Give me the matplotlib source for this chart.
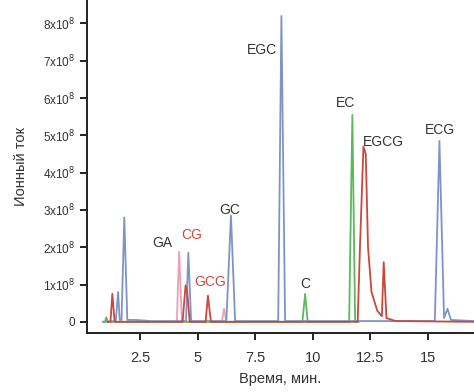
import matplotlib
matplotlib.use("Agg")
import matplotlib.pyplot as plt

plt.rcParams['font.family'] = ['Liberation Sans', 'DejaVu Sans']

# intensities in units of 1e8, time in minutes
blue_t = [0.9, 1.45, 1.55, 1.62, 1.7, 1.82, 1.95, 2.3, 3.0, 4.5, 4.6, 4.72, 6.25, 6.45, 6.63,
          8.5, 8.64, 8.8, 15.3, 15.5, 15.7, 15.85, 16.0, 17.0]
blue_v = [0.0, 0.02, 0.8, 0.05, 0.05, 2.8, 0.05, 0.05, 0.02, 0.02, 1.85, 0.02, 0.02, 2.85, 0.02,
          0.02, 8.2, 0.02, 0.02, 4.85, 0.1, 0.35, 0.05, 0.02]

red_t = [1.1, 1.22, 1.3, 1.4, 4.35, 4.48, 4.55, 4.66, 5.35, 5.45, 5.58, 11.95, 12.05, 12.2,
         12.3, 12.4, 12.55, 12.8, 13.0, 13.08, 13.2, 13.6, 17.0]
red_v = [0.0, 0.0, 0.75, 0.0, 0.0, 0.98, 0.8, 0.0, 0.0, 0.7, 0.0, 0.0, 2.0, 4.7,
         4.5, 2.0, 0.8, 0.3, 0.15, 1.6, 0.1, 0.02, 0.0]

pink_t = [3.9, 4.1, 4.2, 4.32, 6.05, 6.15, 6.25, 7.0]
pink_v = [0.0, 0.0, 1.88, 0.0, 0.0, 0.35, 0.0, 0.0]

green_t = [0.9, 0.98, 1.04, 1.1, 9.55, 9.67, 9.78, 11.58, 11.72, 11.84, 12.0]
green_v = [0.0, 0.0, 0.12, 0.0, 0.0, 0.75, 0.0, 0.0, 5.55, 0.0, 0.0]

peak_names = ['EGC', 'GC', 'GA', 'CG', 'GCG', 'C', 'EC', 'EGCG', 'ECG']
label_x = [7.79, 6.41, 3.49, 4.75, 5.54, 9.67, 11.41, 13.08, 15.54]
label_y = [7.29, 3.0, 2.12, 2.33, 1.07, 1.02, 5.86, 4.81, 5.15]
label_colors = ['#333333', '#333333', '#333333', '#cc4a3c', '#cc4a3c', '#333333', '#333333',
                '#333333', '#333333']

y_ticks = list(range(0, 9))
y_tick_labels = ['0'] + [f'{i}x10$^8$' for i in range(1, 9)]
x_ticks = [2.5, 5, 7.5, 10, 12.5, 15]
x_tick_labels = ['2.5', '5', '7.5', '10', '12.5', '15']

fig = plt.figure(figsize=(4.74, 3.92), dpi=100)
ax = fig.add_axes([0.1835, 0.1505, 0.8165, 0.8495])

ax.plot(pink_t, pink_v, color='#e6a3b8', lw=1.3)
ax.plot(green_t, green_v, color='#5cb85c', lw=1.3)
ax.plot(blue_t, blue_v, color='#7e94c6', lw=1.3)
ax.plot(red_t, red_v, color='#c9483c', lw=1.3)

for name, x, y, c in zip(peak_names, label_x, label_y, label_colors):
    ax.text(x, y, name, color=c, fontsize=10, ha='center', va='center')

ax.set_xlim(0.2, 17.0)
ax.set_ylim(-0.3, 8.63)
ax.set_xticks(x_ticks)
ax.set_xticklabels(x_tick_labels, fontsize=10.5, color='#333333')
ax.set_yticks(y_ticks)
ax.set_yticklabels(y_tick_labels, fontsize=8.5, color='#333333')
ax.tick_params(direction='out', length=5, width=1.4, colors='#222222', labelcolor='#333333')
ax.tick_params(axis='x', pad=8)

for side in ['top', 'right']:
    ax.spines[side].set_visible(False)
for side in ['left', 'bottom']:
    ax.spines[side].set_linewidth(1.4)
    ax.spines[side].set_color('#222222')

ax.set_xlabel('Время, мин.', fontsize=10.5, color='#333333', labelpad=5)
ax.set_ylabel('Ионный ток', fontsize=10.5, color='#333333', labelpad=11)

fig.savefig('out.png', dpi=100)
